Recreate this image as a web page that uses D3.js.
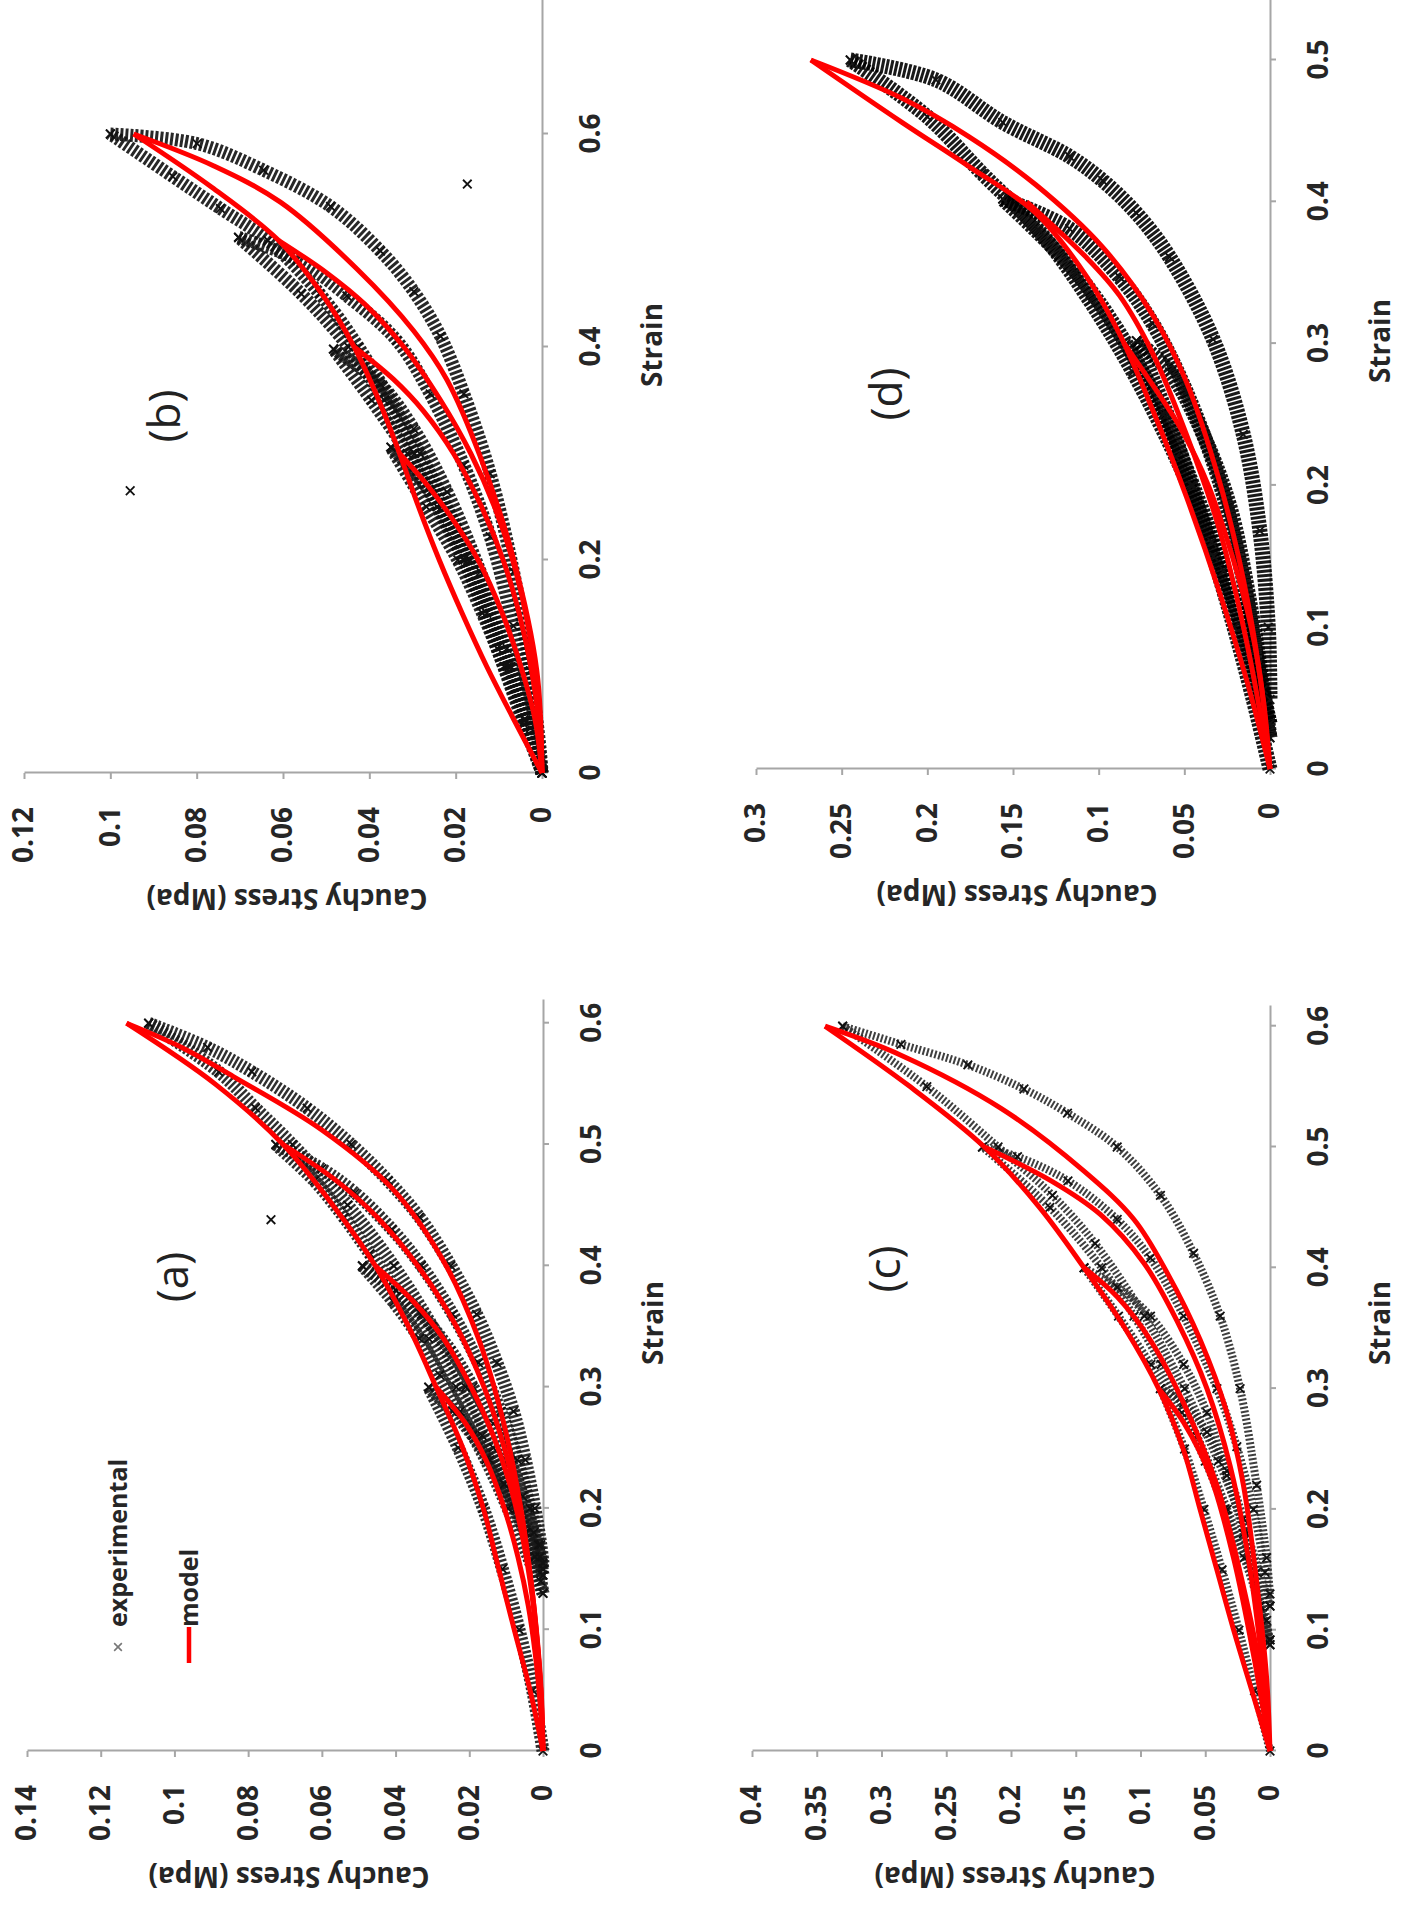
<!DOCTYPE html>
<html>
<head>
<meta charset="utf-8">
<script src="https://cdn.jsdelivr.net/npm/d3@7"></script>
<style>
  body { margin: 0; background: #fff; }
  text { font-family: "Open Sans", "Liberation Sans", sans-serif; }
  .axis path, .axis line { stroke: #a6a6a6; stroke-width: 2; }
  .axis text { font-size: 28px; font-weight: 700; fill: #262626; }
</style>
</head>
<body>
<div id="my_dataviz"></div>
<script>
// ---- tick labels ----
var aStrainTicks = [0, 0.1, 0.2, 0.3, 0.4, 0.5, 0.6];
var aStressTicks = [0, 0.02, 0.04, 0.06, 0.08, 0.1, 0.12, 0.14];
var bStrainTicks = [0, 0.2, 0.4, 0.6];
var bStressTicks = [0, 0.02, 0.04, 0.06, 0.08, 0.1, 0.12];
var cStrainTicks = [0, 0.1, 0.2, 0.3, 0.4, 0.5, 0.6];
var cStressTicks = [0, 0.05, 0.1, 0.15, 0.2, 0.25, 0.3, 0.35, 0.4];
var dStrainTicks = [0, 0.1, 0.2, 0.3, 0.4, 0.5];
var dStressTicks = [0, 0.05, 0.1, 0.15, 0.2, 0.25, 0.3];

// ---- (a) : [strain, stress] ----
var aModelLoading = [[0,0],[0.05,0.0035],[0.1,0.0078],[0.15,0.012],[0.2,0.0162],[0.25,0.0218],[0.3,0.029],[0.35,0.0365],[0.4,0.0455],[0.45,0.057],[0.5,0.0705],[0.55,0.089],[0.6,0.113]];
var aModelUnloading = [
  [[0.3,0.029],[0.27,0.021],[0.24,0.0155],[0.2,0.0105],[0.16,0.0068],[0.12,0.004],[0.08,0.0021],[0.04,0.0008],[0,0]],
  [[0.4,0.0455],[0.37,0.035],[0.34,0.027],[0.3,0.0195],[0.26,0.0135],[0.22,0.009],[0.18,0.0058],[0.14,0.0035],[0.1,0.0019],[0.05,0.0006],[0,0]],
  [[0.5,0.0705],[0.47,0.056],[0.44,0.045],[0.4,0.034],[0.35,0.0235],[0.3,0.016],[0.25,0.0105],[0.2,0.0065],[0.15,0.0037],[0.1,0.0018],[0.05,0.0005],[0,0]],
  [[0.6,0.113],[0.58,0.098],[0.556,0.084],[0.512,0.06],[0.464,0.041],[0.404,0.027],[0.34,0.0175],[0.272,0.0108],[0.2,0.006],[0.12,0.0025],[0.06,0.0008],[0,0]]
];
var aExpLoading = [
  [[0,0],[0.05,0.0028],[0.1,0.0065],[0.15,0.011],[0.2,0.0162],[0.25,0.023],[0.3,0.031]],
  [[0.13,0],[0.16,0.004],[0.2,0.0095],[0.24,0.0155],[0.28,0.0225],[0.31,0.028],[0.34,0.0335],[0.37,0.0405],[0.4,0.049]],
  [[0.145,0],[0.18,0.0048],[0.22,0.0105],[0.26,0.0165],[0.3,0.0235],[0.34,0.031],[0.38,0.04],[0.41,0.047],[0.44,0.054],[0.47,0.062],[0.5,0.0725]],
  [[0.15,0],[0.2,0.0065],[0.25,0.0135],[0.3,0.021],[0.35,0.03],[0.4,0.0405],[0.45,0.053],[0.5,0.068],[0.53,0.078],[0.56,0.088],[0.6,0.107]]
];
var aExpUnloading = [
  [[0.3,0.031],[0.28,0.0245],[0.26,0.019],[0.24,0.0145],[0.22,0.0105],[0.2,0.0072],[0.18,0.0045],[0.16,0.0022],[0.14,0.0006],[0.13,0]],
  [[0.4,0.049],[0.38,0.04],[0.36,0.033],[0.33,0.025],[0.3,0.019],[0.27,0.0135],[0.24,0.009],[0.21,0.0055],[0.18,0.0025],[0.16,0.0008],[0.145,0]],
  [[0.5,0.0725],[0.48,0.06],[0.46,0.051],[0.43,0.041],[0.4,0.033],[0.36,0.0245],[0.32,0.0175],[0.28,0.0115],[0.24,0.007],[0.2,0.0035],[0.17,0.0012],[0.15,0]],
  [[0.6,0.107],[0.58,0.091],[0.56,0.079],[0.53,0.064],[0.5,0.052],[0.47,0.042],[0.44,0.0335],[0.4,0.025],[0.36,0.018],[0.32,0.0125],[0.28,0.008],[0.24,0.0048],[0.2,0.0022],[0.17,0.0006],[0.155,0]]
];
var aOutliers = [[0.438,0.0738]];

// ---- (b) ----
var bModelLoading = [[0,0],[0.05,0.0065],[0.1,0.0128],[0.15,0.0185],[0.2,0.0238],[0.25,0.0286],[0.3,0.033],[0.35,0.0378],[0.4,0.0435],[0.45,0.051],[0.5,0.061],[0.55,0.0765],[0.6,0.0946]];
var bModelUnloading = [
  [[0.3,0.033],[0.27,0.0265],[0.24,0.021],[0.2,0.0148],[0.15,0.0092],[0.1,0.0049],[0.05,0.0016],[0,0]],
  [[0.4,0.0435],[0.37,0.0345],[0.34,0.0275],[0.3,0.0205],[0.25,0.014],[0.2,0.009],[0.15,0.0053],[0.1,0.0026],[0.05,0.0008],[0,0]],
  [[0.5,0.061],[0.47,0.05],[0.44,0.041],[0.4,0.032],[0.35,0.0235],[0.3,0.0165],[0.25,0.011],[0.2,0.0068],[0.15,0.0038],[0.1,0.0018],[0.05,0.0005],[0,0]],
  [[0.6,0.0946],[0.57,0.076],[0.536,0.0606],[0.473,0.0428],[0.415,0.0297],[0.369,0.022],[0.297,0.0143],[0.201,0.0066],[0.096,0.0012],[0,0]]
];
var bExpLoading = [
  [[0,0],[0.05,0.0042],[0.1,0.0088],[0.15,0.0138],[0.2,0.0195],[0.25,0.0268],[0.306,0.035]],
  [[0,0],[0.05,0.0038],[0.1,0.008],[0.15,0.0128],[0.2,0.0182],[0.25,0.0243],[0.3,0.0312],[0.35,0.0395],[0.398,0.0483]],
  [[0,0],[0.1,0.0076],[0.2,0.0172],[0.25,0.0232],[0.3,0.0295],[0.35,0.0365],[0.4,0.0448],[0.45,0.0558],[0.503,0.0703]],
  [[0,0],[0.1,0.0072],[0.2,0.0166],[0.3,0.0283],[0.4,0.0425],[0.45,0.0515],[0.5,0.0635],[0.53,0.0745],[0.56,0.0855],[0.6,0.1]]
];
var bExpUnloading = [
  [[0.306,0.035],[0.264,0.0259],[0.201,0.0181],[0.117,0.0104],[0.046,0.0042],[0,0]],
  [[0.398,0.0483],[0.365,0.0374],[0.323,0.0297],[0.264,0.022],[0.189,0.0143],[0.117,0.0081],[0.042,0.0027],[0,0]],
  [[0.503,0.0703],[0.482,0.0567],[0.448,0.0452],[0.406,0.0336],[0.356,0.0259],[0.289,0.0181],[0.222,0.012],[0.138,0.0066],[0.054,0.0019],[0,0]],
  [[0.6,0.1],[0.591,0.0799],[0.566,0.0645],[0.532,0.049],[0.49,0.0374],[0.452,0.0297],[0.41,0.0235],[0.356,0.0181],[0.281,0.012],[0.189,0.0066],[0.096,0.0027],[0.021,0.0004],[0,0]]
];
var bOutliers = [[0.265,0.0954],[0.553,0.0173]];

// ---- (c) ----
var cModelLoading = [[0,0],[0.05,0.014],[0.1,0.028],[0.15,0.041],[0.2,0.054],[0.25,0.067],[0.3,0.086],[0.35,0.112],[0.4,0.1436],[0.45,0.178],[0.5,0.2205],[0.55,0.278],[0.6,0.3436]];
var cModelUnloading = [
  [[0.3,0.086],[0.272,0.0667],[0.228,0.0462],[0.16,0.0282],[0.08,0.0128],[0,0]],
  [[0.4,0.1436],[0.376,0.118],[0.34,0.0923],[0.288,0.0667],[0.22,0.041],[0.148,0.0231],[0.068,0.0077],[0,0]],
  [[0.5,0.2205],[0.472,0.169],[0.444,0.1308],[0.404,0.0974],[0.356,0.0718],[0.3,0.0487],[0.236,0.0308],[0.168,0.018],[0.088,0.0077],[0,0]],
  [[0.6,0.3436],[0.576,0.285],[0.532,0.2077],[0.48,0.1436],[0.44,0.105],[0.396,0.0795],[0.34,0.0538],[0.28,0.0333],[0.22,0.0205],[0.14,0.0103],[0.06,0.0026],[0,0]]
];
var cExpLoading = [
  [[0,0],[0.05,0.012],[0.1,0.024],[0.15,0.037],[0.2,0.051],[0.25,0.066],[0.3,0.0846]],
  [[0.088,0],[0.12,0.008],[0.16,0.02],[0.2,0.035],[0.24,0.05],[0.28,0.068],[0.32,0.092],[0.36,0.117],[0.4,0.1436]],
  [[0.092,0],[0.14,0.012],[0.2,0.033],[0.26,0.056],[0.32,0.084],[0.36,0.105],[0.4,0.13],[0.45,0.17],[0.5,0.222]],
  [[0.12,0],[0.18,0.018],[0.24,0.04],[0.3,0.066],[0.36,0.097],[0.42,0.135],[0.46,0.168],[0.5,0.21],[0.55,0.265],[0.6,0.33]]
];
var cExpUnloading = [
  [[0.3,0.0846],[0.288,0.0667],[0.264,0.0487],[0.232,0.0333],[0.192,0.0205],[0.148,0.0103],[0.108,0.0026],[0.088,0]],
  [[0.4,0.1436],[0.384,0.118],[0.36,0.0923],[0.32,0.0667],[0.28,0.0487],[0.228,0.0333],[0.18,0.0205],[0.12,0.0077],[0.092,0]],
  [[0.5,0.222],[0.492,0.195],[0.472,0.156],[0.44,0.118],[0.408,0.0923],[0.36,0.0667],[0.3,0.041],[0.252,0.0256],[0.2,0.0128],[0.148,0.0038],[0.12,0]],
  [[0.6,0.33],[0.585,0.285],[0.568,0.2333],[0.548,0.19],[0.528,0.1564],[0.5,0.118],[0.46,0.0846],[0.412,0.059],[0.36,0.0385],[0.3,0.0231],[0.22,0.0103],[0.16,0.0026],[0.13,0]]
];
var cOutliers = [];

// ---- (d) ----
var dModelLoading = [[0,0],[0.063,0.0137],[0.124,0.0293],[0.192,0.0488],[0.253,0.0684],[0.307,0.0879],[0.348,0.1074],[0.392,0.1367],[0.425,0.1758],[0.456,0.2148],[0.5,0.268]];
var dModelUnloading = [
  [[0.3,0.085],[0.27,0.068],[0.24,0.052],[0.2,0.036],[0.15,0.022],[0.1,0.011],[0.05,0.004],[0,0]],
  [[0.4,0.142],[0.361,0.1074],[0.334,0.0879],[0.293,0.0684],[0.236,0.0488],[0.168,0.0293],[0.09,0.0137],[0,0]],
  [[0.5,0.268],[0.473,0.2148],[0.446,0.1758],[0.412,0.1367],[0.368,0.0977],[0.32,0.0684],[0.273,0.0488],[0.202,0.0293],[0.134,0.0156],[0.066,0.0059],[0,0]]
];
var dExpLoading = [
  [[0,0],[0.05,0.01],[0.1,0.021],[0.15,0.033],[0.2,0.046],[0.25,0.06],[0.302,0.078]],
  [[0.022,0],[0.08,0.012],[0.14,0.027],[0.2,0.045],[0.25,0.062],[0.3,0.084],[0.35,0.113],[0.402,0.156]],
  [[0.032,0],[0.1,0.016],[0.16,0.034],[0.22,0.055],[0.28,0.08],[0.33,0.105],[0.38,0.135],[0.42,0.168],[0.46,0.2],[0.5,0.245]]
];
var dExpUnloading = [
  [[0.302,0.078],[0.28,0.0586],[0.236,0.039],[0.185,0.0234],[0.117,0.0117],[0.056,0.0039],[0.022,0]],
  [[0.402,0.156],[0.381,0.117],[0.347,0.0879],[0.314,0.0684],[0.266,0.0488],[0.202,0.0293],[0.134,0.0156],[0.066,0.0059],[0.032,0]],
  [[0.5,0.245],[0.486,0.195],[0.456,0.156],[0.432,0.117],[0.415,0.0977],[0.392,0.078],[0.361,0.0586],[0.303,0.0332],[0.236,0.0156],[0.168,0.0059],[0.1,0.001],[0.049,0]]
];
var dOutliers = [];

// ---- layout of the four panels (the whole figure is turned a quarter turn) ----
var panels = [
  {name: "(a)", ox: 27, oy: 1751, H: 516, stressMax: 0.14, strainPx: 1213, strainLen: 751,
   strainTicks: aStrainTicks, stressTicks: aStressTicks, labelU: 474, labelV: 146,
   model: aModelLoading, modelUn: aModelUnloading, expLoad: aExpLoading, expUn: aExpUnloading, outliers: aOutliers,
   legend: true, hatch: 13, hatchColor: "#1a1a1a", dash: "2.5 2"},
  {name: "(b)", ox: 24, oy: 773, H: 518, stressMax: 0.12, strainPx: 1065, strainLen: 773,
   strainTicks: bStrainTicks, stressTicks: bStressTicks, labelU: 357, labelV: 141,
   model: bModelLoading, modelUn: bModelUnloading, expLoad: bExpLoading, expUn: bExpUnloading, outliers: bOutliers,
   legend: false, hatch: 13, hatchColor: "#111", dash: "3 2"},
  {name: "(c)", ox: 752, oy: 1751, H: 518, stressMax: 0.4, strainPx: 1208, strainLen: 745,
   strainTicks: cStrainTicks, stressTicks: cStressTicks, labelU: 482, labelV: 133,
   model: cModelLoading, modelUn: cModelUnloading, expLoad: cExpLoading, expUn: cExpUnloading, outliers: cOutliers,
   legend: false, hatch: 8, hatchColor: "#2a2a2a", dash: "2 2"},
  {name: "(d)", ox: 756, oy: 769, H: 514, stressMax: 0.3, strainPx: 1418, strainLen: 769,
   strainTicks: dStrainTicks, stressTicks: dStressTicks, labelU: 375, labelV: 131,
   model: dModelLoading, modelUn: dModelUnloading, expLoad: dExpLoading, expUn: dExpUnloading, outliers: dOutliers,
   legend: false, hatch: 15, hatchColor: "#000", dash: "3 1.5"}
];

var svg = d3.select("#my_dataviz")
  .append("svg")
    .attr("width", 1407)
    .attr("height", 1906);

svg.append("rect").attr("width", 1407).attr("height", 1906).attr("fill", "#fff");

var fmt = d3.format("~g");

function drawPanel(p) {
  // draw the chart upright, then rotate it -90 about the data origin
  var g = svg.append("g")
    .attr("transform", "translate(" + p.ox + "," + p.oy + ") rotate(-90)");

  var x = d3.scaleLinear().domain([0, p.strainLen / p.strainPx]).range([0, p.strainLen]);
  var y = d3.scaleLinear().domain([0, p.stressMax]).range([p.H, 0]);

  // axes
  g.append("g")
    .attr("class", "axis")
    .attr("transform", "translate(0," + p.H + ")")
    .call(d3.axisBottom(x).tickValues(p.strainTicks).tickFormat(fmt)
      .tickSize(6).tickSizeOuter(0).tickPadding(32));

  g.append("g")
    .attr("class", "axis")
    .call(d3.axisLeft(y).tickValues(p.stressTicks).tickFormat(fmt)
      .tickSize(6).tickSizeOuter(0).tickPadding(28));

  // axis titles
  g.append("text")
    .attr("x", 428).attr("y", p.H + 110).attr("dy", "0.35em")
    .attr("text-anchor", "middle")
    .style("font-size", "28px").style("font-weight", 700).style("fill", "#262626")
    .text("Strain");

  g.append("text")
    .attr("transform", "translate(-126," + (p.H / 2 + 4) + ") rotate(-90)")
    .attr("dy", "0.35em")
    .attr("text-anchor", "middle")
    .style("font-size", "28px").style("font-weight", 700).style("fill", "#262626")
    .text("Cauchy Stress (Mpa)");

  var line = d3.line()
    .x(function(d) { return x(d[0]); })
    .y(function(d) { return y(d[1]); })
    .curve(d3.curveCatmullRom);

  // experimental: dense x markers -> hatched band
  var exp = p.expLoad.concat(p.expUn);
  g.selectAll("expPath")
    .data(exp).enter()
    .append("path")
      .attr("d", line)
      .style("fill", "none")
      .style("stroke", p.hatchColor)
      .style("stroke-width", p.hatch)
      .style("stroke-dasharray", p.dash)
      .style("opacity", 0.9);

  var pts = [];
  exp.forEach(function(b) { b.forEach(function(d) { pts.push(d); }); });
  var cross = d3.symbol().type(d3.symbolTimes).size(50);
  g.selectAll("expPt")
    .data(pts.concat(p.outliers)).enter()
    .append("path")
      .attr("d", cross)
      .attr("transform", function(d) { return "translate(" + x(d[0]) + "," + y(d[1]) + ")"; })
      .style("fill", "none")
      .style("stroke", "#111")
      .style("stroke-width", 1.8);

  // model
  g.selectAll("modelPath")
    .data([p.model].concat(p.modelUn)).enter()
    .append("path")
      .attr("d", line)
      .style("fill", "none")
      .style("stroke", "#ff0000")
      .style("stroke-width", 5)
      .style("stroke-linejoin", "round");

  // panel letter
  g.append("text")
    .attr("x", p.labelU).attr("y", p.labelV).attr("dy", "0.35em")
    .attr("text-anchor", "middle")
    .style("font-size", "44px").style("fill", "#222")
    .text(p.name);

  if (p.legend) {
    g.append("path")
      .attr("d", d3.symbol().type(d3.symbolTimes).size(40))
      .attr("transform", "translate(104,91)")
      .style("stroke", "#777").style("stroke-width", 1.6);
    g.append("text")
      .attr("x", 124).attr("y", 91).attr("dy", "0.35em")
      .style("font-size", "25px").style("font-weight", 700).style("fill", "#262626")
      .text("experimental");
    g.append("line")
      .attr("x1", 88).attr("x2", 124).attr("y1", 162).attr("y2", 162)
      .style("stroke", "#ff0000").style("stroke-width", 4.5);
    g.append("text")
      .attr("x", 124).attr("y", 162).attr("dy", "0.35em")
      .style("font-size", "25px").style("font-weight", 700).style("fill", "#262626")
      .text("model");
  }
}

panels.forEach(drawPanel);
</script>
</body>
</html>
